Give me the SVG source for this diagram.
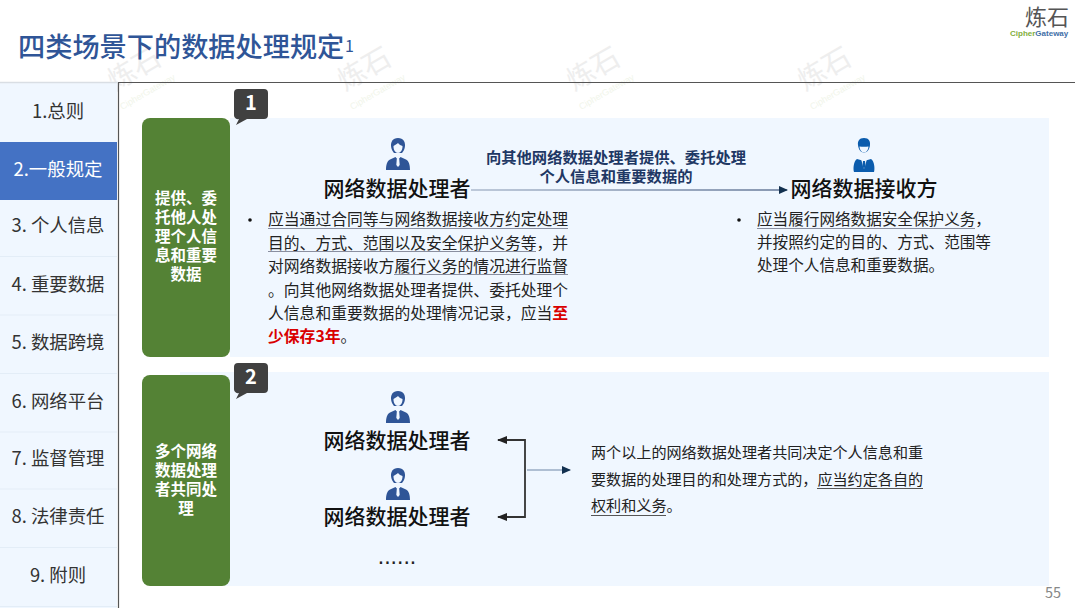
<svg xmlns="http://www.w3.org/2000/svg" width="1080" height="608" viewBox="0 0 1080 608">
<style>
text{font-family:"Noto Sans CJK SC","Noto Sans",sans-serif}
.nav{font-size:18.400px;fill:#333;text-anchor:middle}
.side{font-size:15.500px;font-weight:700;fill:#fff;text-anchor:middle}
.name{font-size:21px;font-weight:500;fill:#111;text-anchor:middle}
.body{font-size:15.800px;fill:#222}
.wm1{font-size:28px;fill:#eeeeee;text-anchor:middle}
.wm2{font-size:9px;fill:#f1f5ea;text-anchor:middle;font-family:"Liberation Sans",sans-serif}
.ul{stroke:#8a8fa0;stroke-width:1.200;fill:none}
.thin{stroke:#6f87a8;stroke-width:1.200;fill:none}
.br{stroke:#333;stroke-width:1.800;fill:none}
</style>
<defs>
<linearGradient id="fl" gradientUnits="userSpaceOnUse" x1="471" y1="0" x2="787" y2="0"><stop offset="0" stop-color="#8a9bb5"/><stop offset="1" stop-color="#1f3864"/></linearGradient>
<marker id="ah" markerWidth="9" markerHeight="8" refX="8" refY="4" orient="auto" markerUnits="userSpaceOnUse"><path d="M0 0L9 4L0 8Z" fill="#12304f"/></marker>
<marker id="ak" markerWidth="10" markerHeight="8" refX="9" refY="4" orient="auto-start-reverse" markerUnits="userSpaceOnUse"><path d="M0 0L10 4L0 8Z" fill="#222"/></marker>
<g id="p1">
<path d="M0-16c-5.500 0-7.200 4-7 8 .2 3 1.500 5 3 7h8c1.500-2 2.800-4 3-7 .2-4-1.500-8-7-8z" fill="#2f5597"/>
<path d="M-4.500-8c1.500-1 3.500-2 4.500-3 1 1.500 3 2.500 4.500 3 .2 4-2 7-4.500 7s-4.700-3-4.500-7z" fill="#f0f7ff"/>
<path d="M-12 16c0-5 1-9 4-10.500l5.500-2.500 2.500 3 2.500-3 5.500 2.500c3 1.500 4 5.500 4 10.500z" fill="#2f5597"/>
<path d="M-1.200 5h2.400l.5 6-1.700 2-1.700-2z" fill="#f0f7ff"/>
</g>
<g id="p2">
<path d="M0-17c-5 0-6.500 3.500-6 7 .4 4 2.500 7.500 6 7.500s5.600-3.500 6-7.500c.5-3.500-1-7-6-7z" fill="#0b5cad"/>
<path d="M-4.500-8.500c3 .3 6 .3 9 0-.2 3.500-2 5.800-4.500 5.800s-4.300-2.300-4.500-5.800z" fill="#f0f7ff"/>
<path d="M-10 17c-1-3-.5-11 3-13l7 2 7-2c3.500 2 4 10 3 13z" fill="#0b5cad"/>
<path d="M-3 3.500h6l-2 8-1 2.500-1-2.500z" fill="#f0f7ff"/>
<path d="M-1 6h2l.5 5-1.500 3-1.500-3z" fill="#0b5cad"/>
</g>
</defs>
<rect width="1080" height="608" fill="#fff"/>

<g id="watermarks">
<g transform="rotate(-30 136 72)"><text class="wm1" x="136" y="78">炼石</text><text class="wm2" x="136" y="98">CipherGateway</text></g>
<g transform="rotate(-30 366 72)"><text class="wm1" x="366" y="78">炼石</text><text class="wm2" x="366" y="98">CipherGateway</text></g>
<g transform="rotate(-30 595 72)"><text class="wm1" x="595" y="78">炼石</text><text class="wm2" x="595" y="98">CipherGateway</text></g>
<g transform="rotate(-30 826 72)"><text class="wm1" x="826" y="78">炼石</text><text class="wm2" x="826" y="98">CipherGateway</text></g>
</g>

<g id="title"><text x="18" y="57" font-size="27.200" font-weight="500" fill="#2f5597">四类场景下的数据处理规定</text><text x="345" y="52" font-size="16" fill="#2f5597">1</text></g>

<g id="logo"><text x="1047" y="25" font-size="22" fill="#555" text-anchor="middle">炼石</text><text x="1010" y="36" font-size="8" font-weight="700" style="font-family:'Liberation Sans',sans-serif" fill="#7fae3c">Cipher<tspan fill="#3f6fa8">Gateway</tspan></text></g>

<g id="frame"><path d="M118 82.500H1075" stroke="#555" stroke-width="1.200"/><path d="M118.500 82V608" stroke="#555" stroke-width="1.200"/></g>

<g id="nav">
<rect x="0" y="83" width="117" height="525" fill="#f0f7ff"/>
<path d="M0 82.500H118" stroke="#d9dee4" stroke-width="1.500"/>
<path d="M0 256.500H117M0 315H117M0 373.500H117M0 432H117M0 489H117M0 547.500H117M0 606.500H117" stroke="#e3edf7" stroke-width="1.200"/>
<rect x="0" y="142" width="117" height="58" fill="#4472c4"/>
<text class="nav" x="58" y="118">1.总则</text>
<text class="nav" x="58" y="176" style="fill:#fff">2.一般规定</text>
<text class="nav" x="58" y="232">3. 个人信息</text>
<text class="nav" x="58" y="291">4. 重要数据</text>
<text class="nav" x="58" y="349">5. 数据跨境</text>
<text class="nav" x="58" y="408">6. 网络平台</text>
<text class="nav" x="58" y="465">7. 监督管理</text>
<text class="nav" x="58" y="523">8. 法律责任</text>
<text class="nav" x="58" y="582">9. 附则</text>
</g>

<g id="panel1">
<rect x="230" y="118" width="819" height="239" fill="#f0f7ff"/>
<rect x="142" y="118" width="88" height="239" rx="8" fill="#548235"/>
<text class="side" x="186" y="204">提供、委</text>
<text class="side" x="186" y="223">托他人处</text>
<text class="side" x="186" y="242">理个人信</text>
<text class="side" x="186" y="261">息和重要</text>
<text class="side" x="186" y="280">数据</text>
<path d="M238 89h26a4 4 0 0 1 4 4v22a4 4 0 0 1-4 4h-17l-11 6 3-6a4 4 0 0 1-5-4v-22a4 4 0 0 1 4-4z" fill="#404040"/>
<text x="251" y="110" font-size="20" font-weight="700" fill="#fff" text-anchor="middle">1</text>
</g>

<g id="source1"><use href="#p1" x="398" y="154"/><text class="name" x="397" y="196">网络数据处理者</text></g>
<g id="receiver1"><use href="#p2" x="864" y="155"/><text class="name" x="864" y="196">网络数据接收方</text></g>

<g id="flowlabel"><text x="616" y="163" font-size="15.300" font-weight="700" fill="#1f3864" text-anchor="middle">向其他网络数据处理者提供、委托处理</text>
<text x="616" y="182" font-size="15.300" font-weight="700" fill="#1f3864" text-anchor="middle">个人信息和重要数据的</text></g>

<g id="text1">
<circle cx="250" cy="220" r="1.800" fill="#111"/>
<text class="body" x="268" y="225">应当通过合同等与网络数据接收方约定处理</text>
<text class="body" x="268" y="249">目的、方式、范围以及安全保护义务等，并</text>
<text class="body" x="268" y="272">对网络数据接收方履行义务的情况进行监督</text>
<text class="body" x="268" y="296">。向其他网络数据处理者提供、委托处理个</text>
<text class="body" x="268" y="319">人信息和重要数据的处理情况记录，应当<tspan fill="#d90000" font-weight="700">至</tspan></text>
<text class="body" x="268" y="342"><tspan fill="#d90000" font-weight="700">少保存3年</tspan>。</text>
<path class="ul" d="M268 228.500H568M268 251.500H536M394 274.500H568"/>
<circle cx="739" cy="220" r="1.800" fill="#111"/>
<text class="body" x="757" y="225" style="font-size:15.600px">应当履行网络数据安全保护义务，</text>
<text class="body" x="757" y="248" style="font-size:15.600px">并按照约定的目的、方式、范围等</text>
<text class="body" x="757" y="271" style="font-size:15.600px">处理个人信息和重要数据。</text>
<path class="ul" d="M757 228.500H975"/>
</g>

<g id="panel2">
<rect x="180" y="372" width="869" height="214" fill="#f0f7ff"/>
<rect x="142" y="375" width="88" height="211" rx="8" fill="#548235"/>
<text class="side" x="186" y="457">多个网络</text>
<text class="side" x="186" y="476">数据处理</text>
<text class="side" x="186" y="495">者共同处</text>
<text class="side" x="186" y="514">理</text>
<path d="M238 363h26a4 4 0 0 1 4 4v22a4 4 0 0 1-4 4h-17l-11 6 3-6a4 4 0 0 1-5-4v-22a4 4 0 0 1 4-4z" fill="#404040"/>
<text x="251" y="384" font-size="20" font-weight="700" fill="#fff" text-anchor="middle">2</text>
</g>

<g id="source2a"><use href="#p1" x="398" y="407"/><text class="name" x="397" y="448">网络数据处理者</text></g>
<g id="source2b"><use href="#p1" x="398" y="484"/><text class="name" x="397" y="524">网络数据处理者</text></g>
<g id="dots"><text x="397" y="564" font-size="23" fill="#222" text-anchor="middle" style="font-family:'Liberation Sans',sans-serif">......</text></g>

<g id="text2">
<text class="body" x="591" y="458" style="font-size:15.100px">两个以上的网络数据处理者共同决定个人信息和重</text>
<text class="body" x="591" y="485" style="font-size:15.100px">要数据的处理目的和处理方式的，应当约定各自的</text>
<text class="body" x="591" y="511" style="font-size:15.100px">权利和义务。</text>
<path class="ul" d="M817 488.500H923M591 515.500H666" style="stroke:#555"/>
</g>

<g id="connectors">
<path d="M471 190H787" fill="none" stroke="url(#fl)" stroke-width="1.200" marker-end="url(#ah)"/>
<path class="br" d="M498 440H525V517H498" marker-start="url(#ak)" marker-end="url(#ak)"/>
<path class="thin" d="M527 470H570" marker-end="url(#ah)"/>
</g>

<g id="page"><text x="1053" y="598" font-size="14.500" fill="#888" text-anchor="middle">55</text></g>
</svg>
